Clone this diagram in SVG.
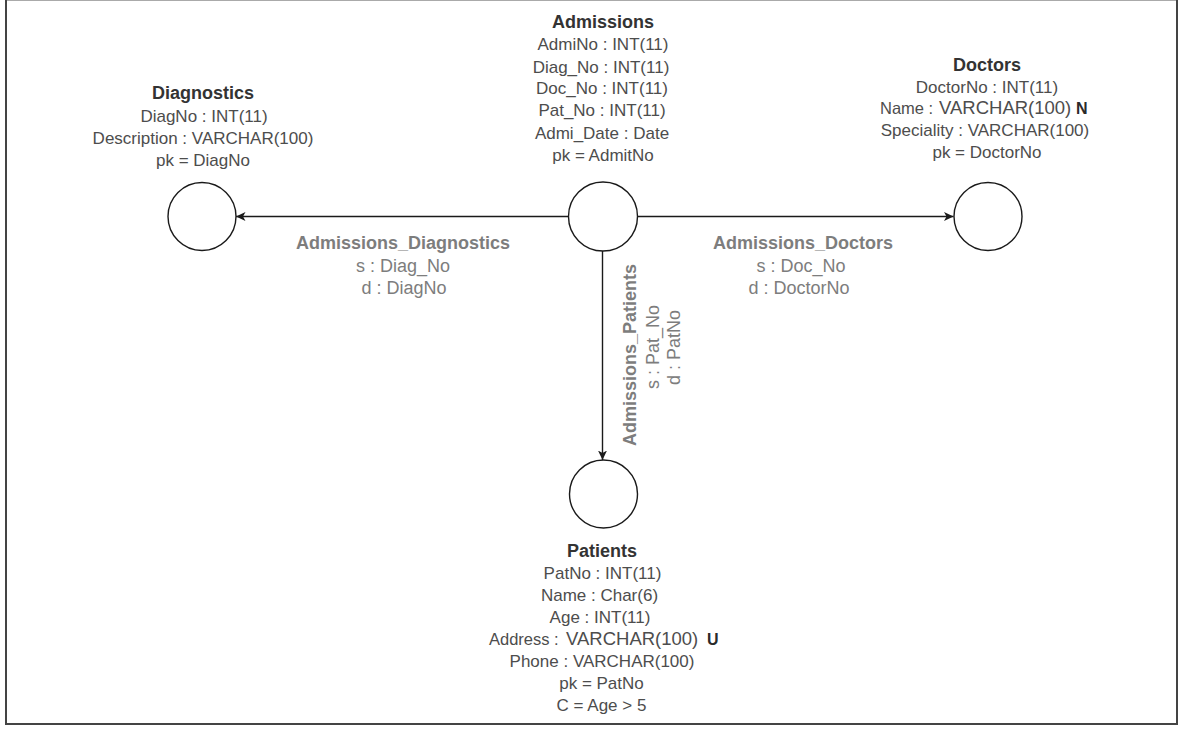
<svg xmlns="http://www.w3.org/2000/svg" width="1183" height="731" viewBox="0 0 1183 731">
  <style>
    text { font-family: "Liberation Sans", Arial, sans-serif; }
    .title { font-size: 18px; font-weight: bold; fill: #333333; text-anchor: middle; }
    .attr { font-size: 17px; fill: #4d4d4d; text-anchor: middle; }
    .attr-l { font-size: 16.5px; fill: #4d4d4d; }
    .type { font-size: 18.5px; }
    .flag { font-size: 16px; font-weight: bold; fill: #2a2a2a; }
    .entity { fill: #ffffff; stroke: #1a1a1a; stroke-width: 1.4; }
    .edge { fill: none; stroke: #1a1a1a; stroke-width: 1.4; marker-end: url(#arrow); }
    .elabel { font-size: 18px; fill: #7d7d7d; text-anchor: middle; }
    .elabel-b { font-size: 18px; font-weight: bold; fill: #7d7d7d; text-anchor: middle; }
    .frame { stroke: #444444; stroke-width: 2; }
  </style>
  <defs>
    <marker id="arrow" markerUnits="userSpaceOnUse" markerWidth="12" markerHeight="12" refX="9.5" refY="5" orient="auto">
      <path d="M 0 0.5 L 9.5 5 L 0 9.5 L 2.5 5 Z" fill="#1a1a1a"/>
    </marker>
  </defs>

  <rect width="1183" height="731" fill="#ffffff"/>

  <!-- outer frame -->
  <g id="frame">
    <line x1="6" y1="0.5" x2="1177" y2="0.5" stroke="#aaaaaa" stroke-width="1"/>
    <line class="frame" x1="6" y1="0" x2="6" y2="725" stroke="#333333"/>
    <line class="frame" x1="1177" y1="0" x2="1177" y2="725"/>
    <line class="frame" x1="5" y1="724" x2="1178" y2="724"/>
  </g>

  <!-- relationships -->
  <g id="connectors">
    <path class="edge" d="M 568.5 216.5 L 236 216.5"/>
    <path class="edge" d="M 637.5 216.5 L 953.5 216.5"/>
    <path class="edge" d="M 602.5 251 L 602.5 460"/>

    <g id="label-admissions-diagnostics">
      <text class="elabel-b" x="403" y="249">Admissions_Diagnostics</text>
      <text class="elabel" x="403" y="272">s : Diag_No</text>
      <text class="elabel" x="404" y="294">d : DiagNo</text>
    </g>
    <g id="label-admissions-doctors">
      <text class="elabel-b" x="803" y="249">Admissions_Doctors</text>
      <text class="elabel" x="801" y="272">s : Doc_No</text>
      <text class="elabel" x="799" y="294">d : DoctorNo</text>
    </g>
    <g id="label-admissions-patients">
      <text class="elabel-b" transform="translate(636 355) rotate(-90)">Admissions_Patients</text>
      <text class="elabel" transform="translate(659 347) rotate(-90)">s : Pat_No</text>
      <text class="elabel" transform="translate(679.5 347.5) rotate(-90)">d : PatNo</text>
    </g>
  </g>

  <!-- Admissions -->
  <g id="node-admissions">
    <circle class="entity" cx="603" cy="216.5" r="34.5"/>
    <text class="title" x="603" y="28">Admissions</text>
    <text class="attr" x="603" y="50">AdmiNo : INT(11)</text>
    <text class="attr" x="601" y="73">Diag_No : INT(11)</text>
    <text class="attr" x="602" y="94">Doc_No : INT(11)</text>
    <text class="attr" x="602" y="116">Pat_No : INT(11)</text>
    <text class="attr" x="602" y="139">Admi_Date : Date</text>
    <text class="attr" x="603" y="161">pk = AdmitNo</text>
  </g>

  <!-- Diagnostics -->
  <g id="node-diagnostics">
    <circle class="entity" cx="202" cy="216.5" r="34"/>
    <text class="title" x="203" y="99">Diagnostics</text>
    <text class="attr" x="204" y="122">DiagNo : INT(11)</text>
    <text class="attr" x="203" y="144" font-size="17.5">Description : VARCHAR(100)</text>
    <text class="attr" x="203" y="166">pk = DiagNo</text>
  </g>

  <!-- Doctors -->
  <g id="node-doctors">
    <circle class="entity" cx="988" cy="216.5" r="34"/>
    <text class="title" x="987" y="71">Doctors</text>
    <text class="attr" x="987" y="93">DoctorNo : INT(11)</text>
    <text class="attr-l" x="880" y="114">Name : <tspan class="type" x="939">VARCHAR(100)</tspan><tspan class="flag" x="1076">N</tspan></text>
    <text class="attr" x="985" y="136">Speciality : VARCHAR(100)</text>
    <text class="attr" x="987" y="158">pk = DoctorNo</text>
  </g>

  <!-- Patients -->
  <g id="node-patients">
    <circle class="entity" cx="603.5" cy="494" r="34"/>
    <text class="title" x="602" y="557">Patients</text>
    <text class="attr" x="602.5" y="579">PatNo : INT(11)</text>
    <text class="attr" x="599.5" y="601">Name : Char(6)</text>
    <text class="attr" x="600" y="623">Age : INT(11)</text>
    <text class="attr-l" x="489" y="645">Address : <tspan class="type" x="566">VARCHAR(100)</tspan><tspan class="flag" x="707">U</tspan></text>
    <text class="attr" x="602" y="667">Phone : VARCHAR(100)</text>
    <text class="attr" x="601.5" y="689">pk = PatNo</text>
    <text class="attr" x="601.5" y="711">C = Age &gt; 5</text>
  </g>
</svg>
